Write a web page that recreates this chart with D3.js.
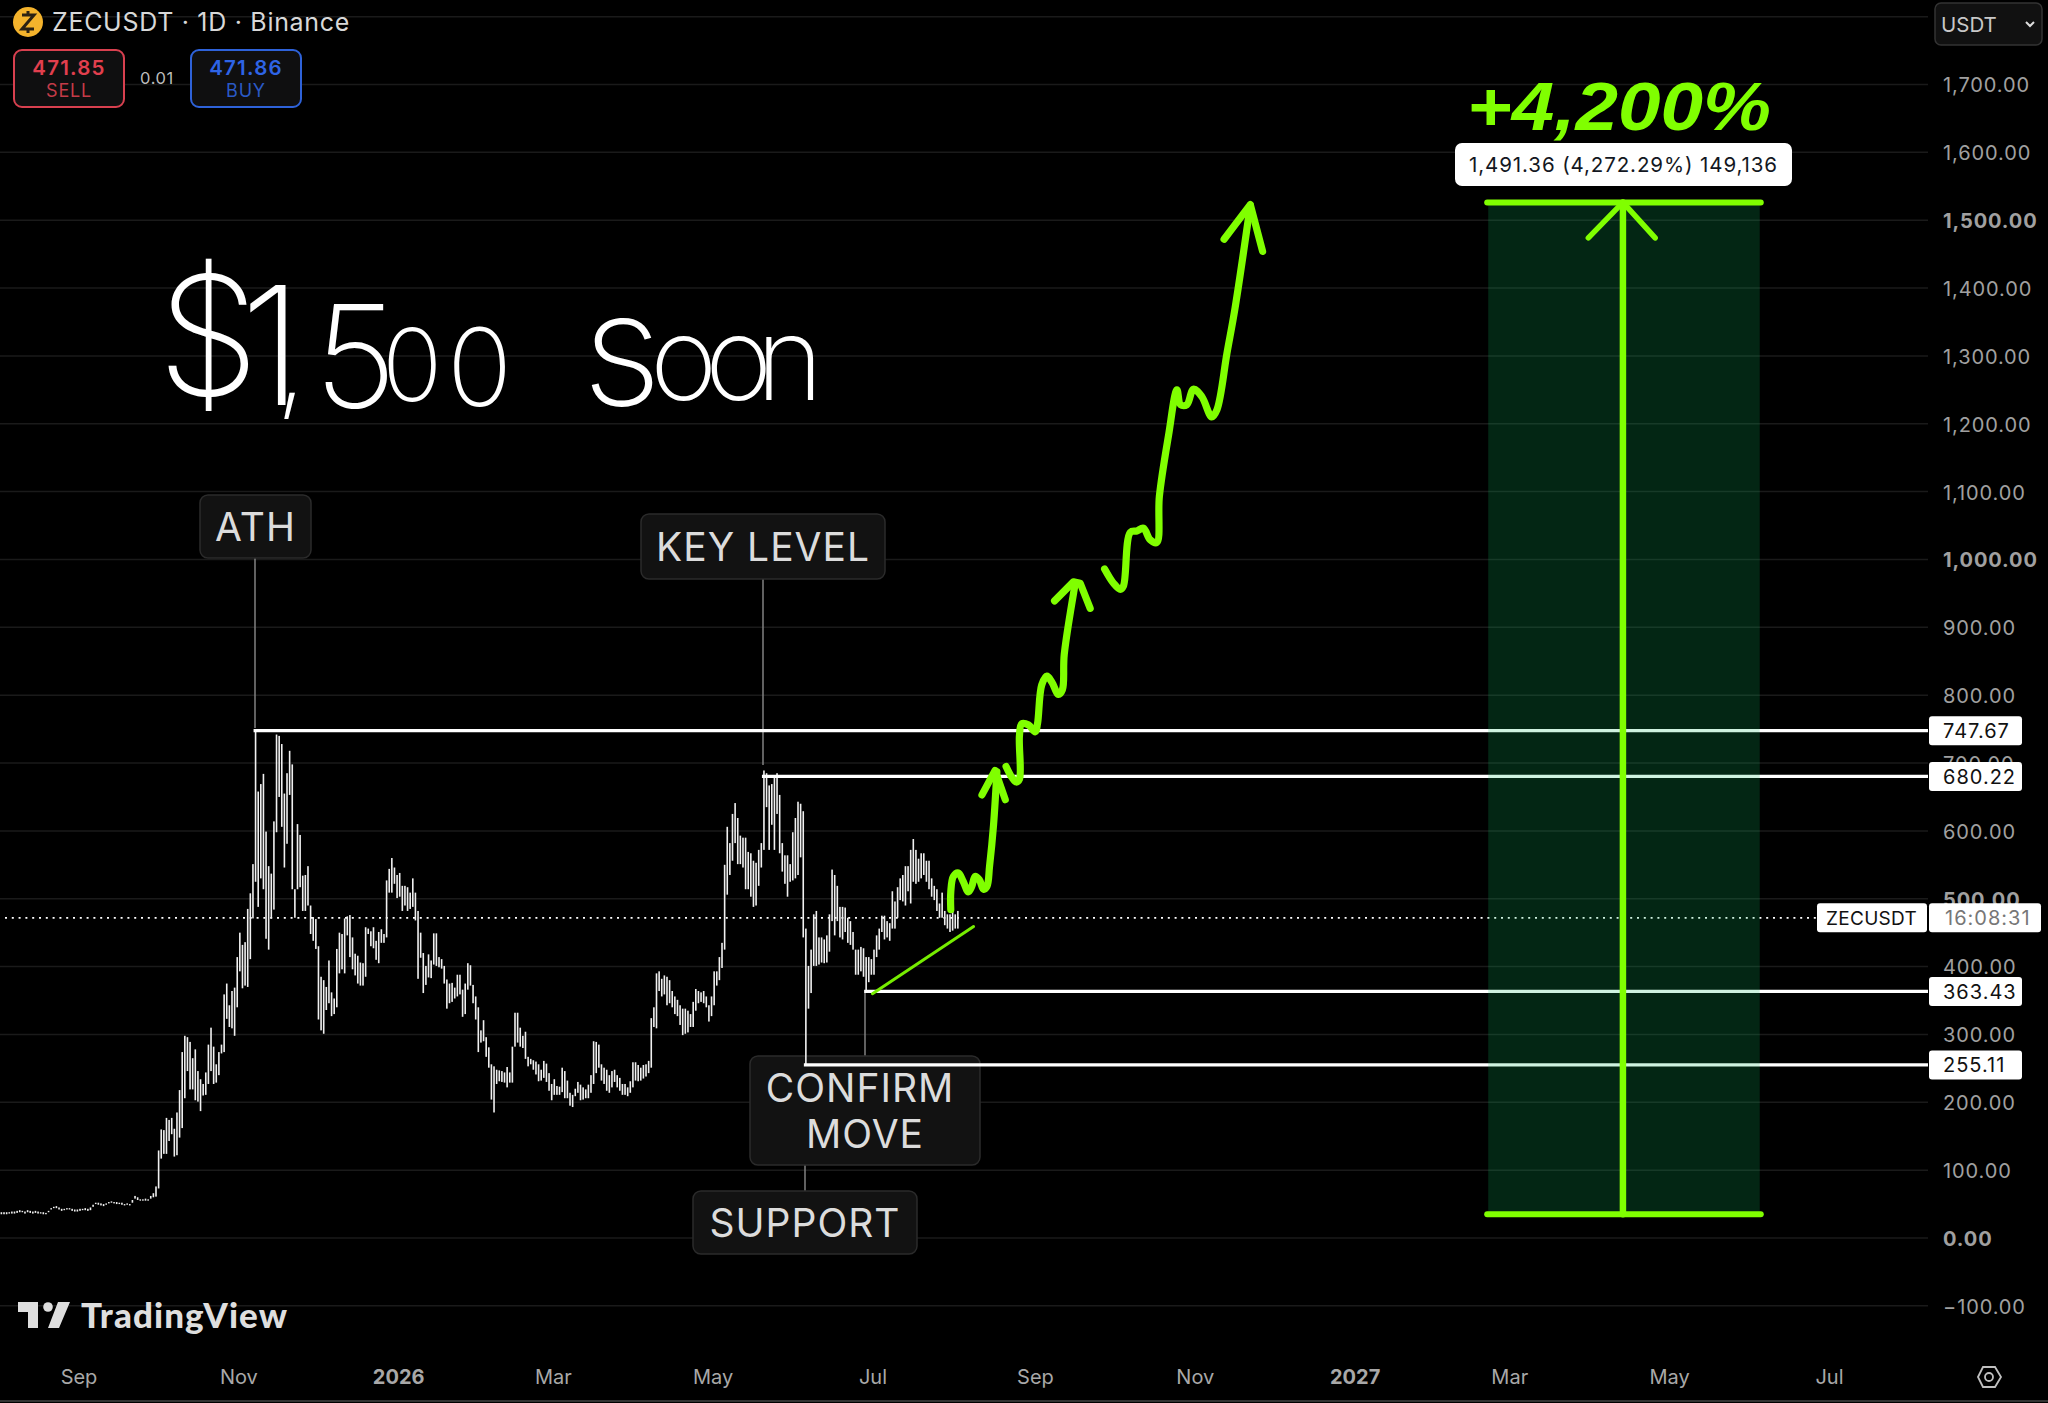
<!DOCTYPE html>
<html>
<head>
<meta charset="utf-8">
<title>ZECUSDT</title>
<script src="https://cdn.jsdelivr.net/npm/d3@7"></script>
<style>
    html, body { margin: 0; background: #000; overflow: hidden; }
    svg text { font-family: Inter, "Liberation Sans", sans-serif; }
</style>
</head>
<body>
<svg id="chart" width="2048" height="1403"></svg>
<script>
// daily bars, first one is 2 Aug 2025
const firstDay = new Date(Date.UTC(2025, 7, 2))
const highs = [
    38,38,38,38,39,39,40,41,40,39,41,40,39,40,39,38,38,37,40,44,
    46,47,45,43,43,44,44,43,42,42,43,43,44,43,45,49,52,52,51,50,
    51,53,54,53,53,52,52,50,51,50,56,62,60,57,57,58,57,62,66,
    76,129,160,159,177,174,177,161,185,218,
    274,298,296,289,265,278,246,234,227,244,
    285,310,282,256,274,285,359,375,343,364,
    369,414,450,432,436,485,508,551,748,658,
    669,684,599,548,537,614,742,740,728,655,
    685,718,698,514,610,594,534,535,548,490,
    473,470,430,385,380,370,409,362,353,426,
    450,448,471,474,476,443,419,416,406,405,
    458,456,452,458,438,451,455,448,527,544,
    560,546,535,538,519,519,517,509,530,509,
    482,450,420,401,418,409,449,449,414,411,
    401,381,375,376,369,388,388,366,375,405,
    402,373,356,340,306,321,296,281,256,253,
    248,247,246,244,252,244,282,332,332,310,
    298,304,267,264,262,260,256,248,261,257,
    243,227,234,224,223,
    251,246,232,214,211,220,230,226,222,219,
    226,240,290,289,285,256,251,248,240,246,
    248,240,236,227,227,222,231,259,259,255,
    251,255,256,261,324,340,390,393,382,387,
    385,380,364,356,351,343,338,338,335,330,
    348,367,364,362,364,356,343,356,393,393,
    414,435,550,606,582,625,641,619,593,590,
    590,569,567,556,553,572,582,689,685,667,
    669,682,685,653,582,564,564,551,598,619,
    643,640,629,456,401,425,477,482,443,443,
    440,446,477,543,535,519,488,488,487,472,
    467,451,425,425,429,427,414,414,411,425,
    446,456,475,475,467,464,511,496,517,530,
    535,548,548,572,588,572,559,567,567,556,
    556,530,519,514,493,509,482,477,477,482,
    477,482
]
const lows = [
    35,35,35,36,36,36,37,38,38,36,38,37,36,37,36,36,35,35,38,42,
    44,44,42,40,41,42,42,40,39,39,40,41,41,40,41,46,50,49,48,47,
    49,51,52,51,50,50,49,48,49,48,52,58,56,55,55,55,55,58,60,
    61,73,117,124,124,143,153,120,122,148,
    162,206,246,219,219,203,201,187,210,211,
    227,246,227,229,240,272,274,323,311,309,
    298,340,393,368,372,370,411,471,525,488,
    530,514,441,425,471,484,598,650,606,546,
    581,653,514,472,514,517,482,482,490,448,
    438,426,322,306,301,336,346,327,330,340,
    390,396,390,446,414,396,387,375,372,372,
    385,448,430,427,410,405,435,435,443,509,
    509,522,501,503,482,490,482,485,488,468,
    382,413,361,373,384,383,403,401,399,397,
    375,338,346,348,353,356,359,326,330,366,
    372,346,322,274,288,290,267,251,204,185,
    227,231,230,229,222,229,229,282,288,282,
    280,264,253,256,248,241,231,232,236,230,
    217,203,211,211,211,
    215,206,206,195,193,209,214,203,204,206,
    206,214,227,243,251,232,227,217,214,222,
    230,222,217,211,211,209,214,222,232,231,
    232,235,238,243,251,311,309,364,356,359,
    343,346,340,330,327,314,299,301,303,311,
    311,335,346,348,346,340,319,327,343,372,
    380,398,425,506,535,556,582,551,551,546,
    514,514,503,488,490,519,546,572,635,572,
    609,572,625,567,540,522,503,525,527,530,
    535,561,443,255,338,361,401,401,403,406,
    405,406,422,467,446,467,443,440,451,435,
    432,425,388,388,393,385,364,377,388,388,
    414,425,451,440,443,438,456,456,472,498,
    496,490,511,493,525,522,525,530,535,525,
    514,503,498,482,472,472,461,456,451,453,
    456,456
]

const priceTicks = [1700,1600,1500,1400,1300,1200,1100,1000,900,800,700,600,500,400,300,200,100,0,-100]
const gridPrices = [1800].concat(priceTicks)
const boldPrices = [1500,1000,500,0]
const timeTicks = ["2025-09-01","2025-11-01","2026-01-01","2026-03-01","2026-05-01","2026-07-01","2026-09-01","2026-11-01","2027-01-01","2027-03-01","2027-05-01","2027-07-01"].map(d => new Date(d))
const timeLabels = ["Sep","Nov","2026","Mar","May","Jul","Sep","Nov","2027","Mar","May","Jul"]

const lastPrice = 471.85
const levelPrices = [747.67,680.22,363.43,255.11]
const levelDays = [97,291,330,307]   // bar where each level starts

// hand drawn path, [days since 1 Sep 2025, price]
const leg1 = [[332.3,484],[332.3,510],[333.3,533],[335.2,538],[337.1,525],[339,510],[340.3,518],[341.6,533],[343.2,528],[344.8,514],[346.1,518],[347.1,548],[348.6,608],[349.9,687]]
const leg1Head = [[344.2,653],[349.2,689],[353.1,646]]
const leg2 = [[353.4,695],[355.6,679],[357.3,672],[358.5,676],[358.5,740],[359.4,758],[362,756],[364.5,746],[365.4,758],[367,815],[369,828],[370.9,819],[373.4,801],[374.9,808],[375.6,860],[379.8,965]]
const leg2Head = [[371.9,939],[379.1,967],[381.7,965],[385.5,928]]
const leg3 = [[391,986],[394.4,965],[397,956],[398.2,961],[400.8,1040],[403.3,1042],[405.8,1046],[408.4,1029],[410.9,1025],[411.9,1093],[415.4,1183],[418.6,1250],[420,1228],[422.4,1228],[424.9,1251],[428.1,1240],[431.9,1210],[433.9,1221],[437.7,1304],[440.8,1371],[446.6,1522]]
const leg3Head = [[436.6,1472],[446.6,1523],[451.3,1454]]
const trendLine = [[302.4,360],[341,459]]

// measure tool
const measureDays = [537.4,641]
const measurePrices = [34.91,1526.27]
const measureMid = 588.8
const measureHead = [[575.6,1474],[588.8,1526.27],[601.1,1474]]

const green = "#80ff00"
const svg = d3.select("#chart")

const x = d3.scaleUtc().domain([timeTicks[0], timeTicks[5]]).range([80, 874])
const y = d3.scaleLinear().domain([0, 1700]).range([1238, 84.5])
const sep1 = timeTicks[0]
const dayX = d => x(new Date(+sep1 + d * 864e5))
const barX = i => x(d3.utcDay.offset(firstDay, i))
const line = d3.line().x(d => dayX(d[0])).y(d => y(d[1]))

// grid
svg.append("g").selectAll("line").data(gridPrices).join("line")
    .attr("x1", 0).attr("x2", 1928)
    .attr("y1", d => y(d)).attr("y2", d => y(d))
    .attr("stroke", "#1a1a1a").attr("stroke-width", 1.5)

// axes
const yAxis = svg.append("g").attr("transform", "translate(1943,0)")
    .call(d3.axisRight(y).tickValues(priceTicks).tickSize(0).tickPadding(0).tickFormat(d3.format(",.2f")))
yAxis.select(".domain").remove()
yAxis.selectAll("text")
    .attr("font-size", 20).attr("fill", "#a0a0a0").attr("letter-spacing", 0.9).attr("dy", "0.37em")
    .style("font-family", "Inter")
    .attr("font-weight", d => boldPrices.includes(d) ? 700 : 400)

const xAxis = svg.append("g").attr("transform", "translate(0,1370)")
    .call(d3.axisBottom(x).tickValues(timeTicks).tickSize(0).tickPadding(0).tickFormat((d, i) => timeLabels[i]))
xAxis.select(".domain").remove()
xAxis.selectAll("text")
    .attr("font-size", 20).attr("fill", "#a8a8a8").attr("dx", -1.5)
    .style("font-family", "Inter")
    .attr("font-weight", (d, i) => timeLabels[i].length == 4 ? 700 : 400)

svg.append("line").attr("x1", 0).attr("x2", 2048).attr("y1", 1401).attr("y2", 1401)
    .attr("stroke", "#333").attr("stroke-width", 2)

// last price dots
svg.append("line").attr("x1", 5).attr("x2", 1817)
    .attr("y1", y(lastPrice)).attr("y2", y(lastPrice))
    .attr("stroke", "#fff").attr("stroke-width", 1.6).attr("stroke-dasharray", "2 4.8")

// connectors from the labels
const connectors = [[255,558,728],[763,579,765],[865,993,1056],[805,1165,1191]]
svg.append("g").selectAll("line").data(connectors).join("line")
    .attr("x1", d => d[0]).attr("x2", d => d[0]).attr("y1", d => d[1]).attr("y2", d => d[2])
    .attr("stroke", "#8a8a8a").attr("stroke-width", 1.4)

// labels
const labels = [
    {x: 200, y: 495, w: 111, h: 63, t: ["ATH"], dx: [0]},
    {x: 641, y: 514, w: 244, h: 65, t: ["KEY LEVEL"], dx: [0]},
    {x: 750, y: 1056, w: 230, h: 109, t: ["CONFIRM", "MOVE"], dx: [-5, 0]},
    {x: 693, y: 1191, w: 224, h: 63, t: ["SUPPORT"], dx: [0]}
]
labels.forEach(function (l) {
    svg.append("rect").attr("x", l.x).attr("y", l.y).attr("width", l.w).attr("height", l.h).attr("rx", 8)
        .attr("fill", "#121212").attr("stroke", "#2b2b2b").attr("stroke-width", 1.5)
    l.t.forEach(function (t, i) {
        svg.append("text")
            .attr("x", l.x + l.w / 2 + l.dx[i])
            .attr("y", l.y + l.h / 2 + 14.5 + (i - (l.t.length - 1) / 2) * 46)
            .attr("text-anchor", "middle").attr("font-size", 39).attr("fill", "#dcdcdc")
            .attr("letter-spacing", 1).text(t)
    })
})

// bars
svg.append("g").selectAll("rect").data(highs).join("rect")
    .attr("x", (d, i) => barX(i) - 0.8)
    .attr("width", 1.6)
    .attr("y", d => y(d))
    .attr("height", (d, i) => y(lows[i]) - y(d))
    .attr("fill", "#f0f0f0")

// level lines
svg.append("g").selectAll("line").data(levelPrices).join("line")
    .attr("x1", (d, i) => barX(levelDays[i]) - 2).attr("x2", 1928)
    .attr("y1", d => y(d)).attr("y2", d => y(d))
    .attr("stroke", "#fff").attr("stroke-width", 3.3)

// measure box sits over the lines
svg.append("rect")
    .attr("x", dayX(measureDays[0])).attr("width", dayX(measureDays[1]) - dayX(measureDays[0]))
    .attr("y", y(measurePrices[1])).attr("height", y(measurePrices[0]) - y(measurePrices[1]))
    .attr("fill", "rgb(17,190,100)").attr("opacity", 0.2)

// right side price tags
const tags = svg.append("g").selectAll("g").data(levelPrices).join("g")
    .attr("transform", d => `translate(1929,${y(d)})`)
tags.append("rect").attr("x", 0).attr("y", -14.5).attr("width", 93).attr("height", 29).attr("rx", 3).attr("fill", "#fff")
tags.append("text").attr("x", 14).attr("y", 7.2).attr("font-size", 20).attr("letter-spacing", 1).attr("fill", "#111").text(d => d.toFixed(2))

svg.append("rect").attr("x", 1817).attr("y", y(lastPrice) - 14.5).attr("width", 110).attr("height", 29).attr("rx", 3).attr("fill", "#fff")
svg.append("text").attr("x", 1826).attr("y", y(lastPrice) + 7).attr("font-size", 19).attr("letter-spacing", 0.3).attr("fill", "#111").text("ZECUSDT")
svg.append("rect").attr("x", 1929).attr("y", y(lastPrice) - 14.5).attr("width", 112).attr("height", 29).attr("rx", 3).attr("fill", "#fff")
svg.append("text").attr("x", 1945).attr("y", y(lastPrice) + 7).attr("font-size", 20).attr("letter-spacing", 1).attr("fill", "#777").text("16:08:31")

// green annotation
const drawGreen = (pts, w) => svg.append("path").attr("d", line.curve(d3.curveLinear)(pts))
    .attr("fill", "none").attr("stroke", green).attr("stroke-width", w)
    .attr("stroke-linecap", "round").attr("stroke-linejoin", "round")

;[leg1, leg2, leg3].forEach(function (p) {
    svg.append("path").attr("d", line.curve(d3.curveCatmullRom)(p))
        .attr("fill", "none").attr("stroke", green).attr("stroke-width", 7.2)
        .attr("stroke-linecap", "round").attr("stroke-linejoin", "round")
})
;[leg1Head, leg2Head, leg3Head].forEach(p => drawGreen(p, 7.2))
drawGreen(trendLine, 3).attr("stroke", "#76ec00")

drawGreen([[measureDays[0] - 0.4, measurePrices[1]], [measureDays[1] + 0.4, measurePrices[1]]], 6)
drawGreen([[measureDays[0] - 0.4, measurePrices[0]], [measureDays[1] + 0.4, measurePrices[0]]], 6)
drawGreen([[measureMid, measurePrices[0]], [measureMid, measurePrices[1]]], 6.5)
drawGreen(measureHead, 5.5)

svg.append("text").attr("x", 1467).attr("y", 130)
    .style("font-family", '"Liberation Sans"').attr("font-size", 68).attr("font-weight", 700).attr("font-style", "italic")
    .attr("fill", green).attr("textLength", 304).attr("lengthAdjust", "spacingAndGlyphs").text("+4,200%")
svg.append("rect").attr("x", 1455).attr("y", 143).attr("width", 337).attr("height", 43).attr("rx", 7).attr("fill", "#fff")
svg.append("text").attr("x", 1623.5).attr("y", 172).attr("text-anchor", "middle").attr("font-size", 20.5).attr("letter-spacing", 0.9).attr("fill", "#131722")
    .text("1,491.36 (4,272.29%) 149,136")

// handwriting, one real text line with each glyph placed
const handChars = ["$","1",",","5","0","0"," ","s","o","o","n"]
const handX = [157,240,276,314,382,447,560,582,650,705,756]
const handY = [395,405,402,408,401,406,406,405,400,400,400]
const handSize = [165,165,110,143,100,108,100,158,115,115,115]
const hand = svg.append("text").attr("fill", "#fff").attr("font-weight", 200)
    .style("font-family", "Inter")
hand.selectAll("tspan").data(handChars).join("tspan")
    .attr("x", (d, i) => handX[i]).attr("y", (d, i) => handY[i]).attr("font-size", (d, i) => handSize[i])
    .text(d => d)

// header
svg.append("circle").attr("cx", 28).attr("cy", 22).attr("r", 15).attr("fill", "#f4b32c")
svg.append("path").attr("d", "M22,15H34L22,29H34M28,11V15M28,29V33").attr("fill", "none").attr("stroke", "#2a2113").attr("stroke-width", 3)
svg.append("text").attr("x", 52).attr("y", 31).attr("font-size", 25).attr("letter-spacing", 0.7).attr("fill", "#d8d8d8").text("ZECUSDT · 1D · Binance")

const sides = [
    {x: 14, w: 110, c: "#d8404f", t: "#e23f4e", p: "471.85", n: "SELL"},
    {x: 191, w: 110, c: "#2e62d9", t: "#2e64e6", p: "471.86", n: "BUY"}
]
sides.forEach(function (s) {
    svg.append("rect").attr("x", s.x).attr("y", 50).attr("width", s.w).attr("height", 57).attr("rx", 8)
        .attr("fill", "#0f0f10").attr("stroke", s.c).attr("stroke-width", 2)
    svg.append("text").attr("x", s.x + s.w / 2).attr("y", 75).attr("text-anchor", "middle").attr("font-size", 20.5).attr("font-weight", 600)
        .attr("letter-spacing", 1.2).attr("fill", s.t).text(s.p)
    svg.append("text").attr("x", s.x + s.w / 2).attr("y", 97).attr("text-anchor", "middle").attr("font-size", 18)
        .attr("letter-spacing", 0.8).attr("fill", s.c).attr("opacity", 0.9).text(s.n)
})
svg.append("text").attr("x", 157).attr("y", 84).attr("text-anchor", "middle").attr("font-size", 16.5).attr("letter-spacing", 0.6).attr("fill", "#bbb").text("0.01")

// currency box
svg.append("rect").attr("x", 1935).attr("y", 3).attr("width", 107).attr("height", 42).attr("rx", 6)
    .attr("fill", "#111").attr("stroke", "#333").attr("stroke-width", 1.5)
svg.append("text").attr("x", 1941).attr("y", 32).attr("font-size", 20.5).attr("fill", "#c8c8c8").text("USDT")
svg.append("path").attr("d", "M2026,22L2030,26L2034,22").attr("fill", "none").attr("stroke", "#ddd").attr("stroke-width", 2)

// gear
svg.append("path").attr("d", "M1978,1377L1983,1367H1995L2001,1377L1995,1387H1983Z").attr("fill", "none").attr("stroke", "#c0c0c0").attr("stroke-width", 1.8)
svg.append("circle").attr("cx", 1989).attr("cy", 1377).attr("r", 4).attr("fill", "none").attr("stroke", "#c0c0c0").attr("stroke-width", 1.8)

// tradingview mark
svg.append("path").attr("d", "M18,1302H38V1328H28V1312H18ZM58,1302H70L59,1328H48Z").attr("fill", "#dedede")
svg.append("circle").attr("cx", 48).attr("cy", 1307).attr("r", 4.8).attr("fill", "#dedede")
svg.append("text").attr("x", 81).attr("y", 1328).style("font-family", "Lato").attr("font-size", 35).attr("font-weight", 900)
    .attr("fill", "#dedede").attr("textLength", 206).text("TradingView")
</script>
</body>
</html>
